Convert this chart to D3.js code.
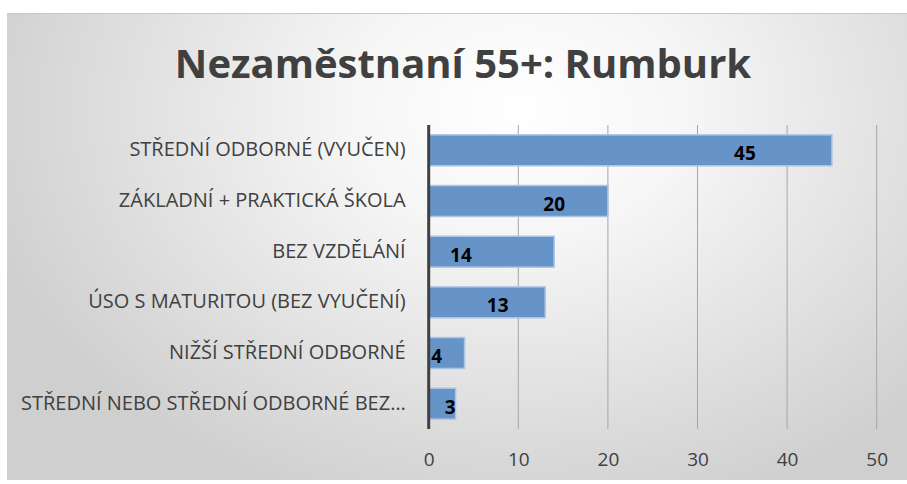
<!DOCTYPE html>
<html>
<head>
<meta charset="utf-8">
<script src="https://cdn.jsdelivr.net/npm/d3@7"></script>
<style>
  body { margin: 0; background: #fff; }
  svg { display: block; font-family: "Open Sans", sans-serif; }
</style>
</head>
<body>
<div id="viscontainer"></div>
<script>
const categories = [
  "STŘEDNÍ ODBORNÉ (VYUČEN)",
  "ZÁKLADNÍ + PRAKTICKÁ ŠKOLA",
  "BEZ VZDĚLÁNÍ",
  "ÚSO S MATURITOU (BEZ VYUČENÍ)",
  "NIŽŠÍ STŘEDNÍ ODBORNÉ",
  "STŘEDNÍ NEBO STŘEDNÍ ODBORNÉ BEZ…",
];
const counts = [45, 20, 14, 13, 4, 3];
const xTicks = [0, 10, 20, 30, 40, 50];
// where Excel left each data label, in axis units
const labelAt = [35.3, 14, 3.6, 7.7, 0.9, 2.4];

const width = 907;
const height = 484;
const marginTop = 125;
const marginBottom = 55;
const marginLeft = 428.7;
const marginRight = 30.3;

const data = categories.map((c, i) => ({ category: c, count: counts[i], at: labelAt[i] }));

const svg = d3.create("svg").attr("width", width).attr("height", height);
document.getElementById("viscontainer").append(svg.node());

const defs = svg.append("defs");
const grad = defs.append("radialGradient")
  .attr("id", "bg")
  .attr("gradientUnits", "userSpaceOnUse")
  .attr("cx", 520).attr("cy", 110).attr("r", 560)
  .attr("gradientTransform", "translate(520,110) scale(1,0.75) translate(-520,-110)");
grad.append("stop").attr("offset", "0%").attr("stop-color", "#ffffff");
grad.append("stop").attr("offset", "30%").attr("stop-color", "#f6f6f6");
grad.append("stop").attr("offset", "100%").attr("stop-color", "#cfcfcf");

// chart area
svg.append("rect")
  .attr("x", 7).attr("y", 13)
  .attr("width", width - 7).attr("height", height - 17)
  .attr("fill", "url(#bg)");
svg.append("line")
  .attr("x1", 7).attr("x2", width).attr("y1", 13.5).attr("y2", 13.5)
  .attr("stroke", "#c8c8c8").attr("stroke-width", 1);

const xScale = d3.scaleLinear()
  .domain([0, 50])
  .range([marginLeft, width - marginRight]);

const yScale = d3.scaleBand()
  .domain(categories)
  .range([marginTop, height - marginBottom])
  .paddingInner(0.39)
  .paddingOuter(0.195);

// gridlines
svg.append("g")
  .selectAll("line")
  .data(xTicks.slice(1))
  .join("line")
  .attr("x1", (d) => xScale(d)).attr("x2", (d) => xScale(d))
  .attr("y1", marginTop).attr("y2", height - marginBottom)
  .attr("stroke", "#a6a6a6").attr("stroke-width", 1);

// bars
svg.append("g")
  .selectAll("rect")
  .data(data)
  .join("rect")
  .attr("x", xScale(0))
  .attr("y", (d) => yScale(d.category))
  .attr("width", (d) => xScale(d.count) - xScale(0))
  .attr("height", yScale.bandwidth())
  .attr("fill", "#6794c8")
  .attr("stroke", "#a9c5e6")
  .attr("stroke-width", 1.5);

// y axis line
svg.append("line")
  .attr("x1", xScale(0)).attr("x2", xScale(0))
  .attr("y1", marginTop).attr("y2", height - marginBottom)
  .attr("stroke", "#404040").attr("stroke-width", 3);

// x axis tick labels
const xAxis = svg.append("g")
  .attr("transform", `translate(0, ${height - marginBottom})`)
  .call(d3.axisBottom(xScale).tickValues(xTicks).tickSize(0).tickPadding(24));
xAxis.select(".domain").remove();
xAxis.selectAll("text")
  .attr("font-size", 19)
  .attr("font-family", "Open Sans, sans-serif")
  .attr("fill", "#404040");

// category labels
const yAxis = svg.append("g")
  .attr("transform", `translate(${xScale(0) - 23}, 0)`)
  .call(d3.axisLeft(yScale).tickSize(0).tickPadding(0));
yAxis.select(".domain").remove();
yAxis.selectAll("text")
  .attr("font-size", 20)
  .attr("font-family", "Open Sans, sans-serif")
  .attr("fill", "#404040")
  .attr("dy", "0.3em");

// value labels
svg.append("g")
  .selectAll("text")
  .data(data)
  .join("text")
  .attr("x", (d) => xScale(d.at))
  .attr("y", (d) => yScale(d.category) + yScale.bandwidth() / 2 + 3)
  .attr("dy", "0.36em")
  .attr("text-anchor", "middle")
  .attr("font-size", 19)
  .attr("font-weight", "bold")
  .attr("fill", "#000")
  .text((d) => d.count);

// title
svg.append("text")
  .attr("x", 463).attr("y", 78)
  .attr("text-anchor", "middle")
  .attr("font-size", 40)
  .attr("font-weight", "bold")
  .attr("fill", "#404040")
  .text("Nezaměstnaní 55+: Rumburk");
</script>
</body>
</html>
